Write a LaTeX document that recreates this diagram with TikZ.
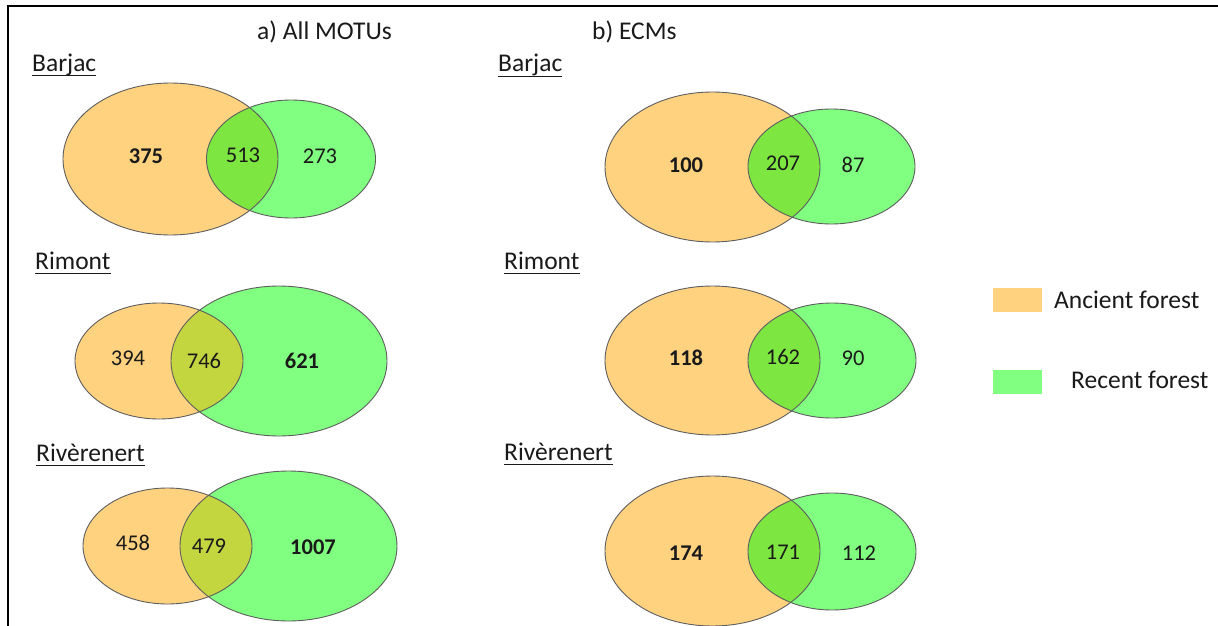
\documentclass[tikz,border=0pt]{standalone}
\usepackage{fontspec}
\setmainfont{Carlito}
\definecolor{anc}{HTML}{FFD280}
\definecolor{rec}{HTML}{80FF80}
\definecolor{ovg}{HTML}{7DE640}
\definecolor{ovo}{HTML}{C3D640}
\definecolor{vedge}{HTML}{5E5E5E}
\definecolor{ink}{HTML}{1A1A1A}
\newcommand{\vennpair}[9]{%
  \fill[anc] (#1,#2) ellipse [x radius=#3pt, y radius=#4pt];
  \fill[rec] (#5,#6) ellipse [x radius=#7pt, y radius=#8pt];
  \begin{scope}
    \clip (#1,#2) ellipse [x radius=#3pt, y radius=#4pt];
    \fill[#9] (#5,#6) ellipse [x radius=#7pt, y radius=#8pt];
  \end{scope}
  \draw[vennline] (#1,#2) ellipse [x radius=#3pt, y radius=#4pt];
  \draw[vennline] (#5,#6) ellipse [x radius=#7pt, y radius=#8pt];
}
\tikzset{
  vennline/.style={draw=vedge, line width=0.9pt},
  num/.style={font=\fontsize{22.5}{27}\selectfont, text=ink, inner sep=0pt},
  bnum/.style={num, font=\fontsize{22.5}{27}\selectfont\bfseries},
  site/.style={font=\fontsize{25.5}{30}\selectfont, text=ink, inner sep=0pt, anchor=base west},
  uline/.style={draw=ink, line width=1.3pt},
  swatch/.style={inner sep=0pt, minimum width=49pt, minimum height=24pt},
  legtext/.style={font=\fontsize{25.5}{30}\selectfont, text=ink, inner sep=0pt, anchor=west},
}
\begin{document}
\begin{tikzpicture}[x=1pt,y=-1pt]
\useasboundingbox (0,0) rectangle (1218,626);
\fill[white] (0,0) rectangle (1218,626);
% frame
\draw[line width=2pt, black] (1218,6.5) -- (7.5,6.5) -- (7.5,626);

% titles
\node[site] (ta) at (257,40) {a) All MOTUs};
\node[site] (tb) at (592,40) {b) ECMs};

% site labels
\node[site] (s1) at (32,71) {Barjac};
\node[site] (s2) at (35,269) {Rimont};
\node[site] (s3) at (36,461) {Rivèrenert};
\node[site] (s4) at (498,72) {Barjac};
\node[site] (s5) at (504,269) {Rimont};
\node[site] (s6) at (504,460) {Rivèrenert};
\foreach \s in {s1,s2,s3,s4,s5,s6}
  \draw[uline] ([yshift=-4.5pt]\s.base west) -- ([yshift=-4.5pt]\s.base east);

% a) All MOTUs
\vennpair{170.5}{159}{107.5}{76}{291}{159}{84.5}{59}{ovg}
\vennpair{159}{361}{84}{58}{279}{361}{108}{75}{ovo}
\vennpair{167.5}{546}{84.5}{58}{288.5}{546}{108.5}{75}{ovo}

% b) ECMs
\vennpair{712.5}{167}{107.5}{75}{831.5}{166.5}{83.5}{57.5}{ovg}
\vennpair{712.5}{360.5}{107.5}{74.5}{832}{360.5}{84}{57.5}{ovg}
\vennpair{712.5}{551}{107.5}{75}{832}{551.5}{84}{58.5}{ovg}

% numbers a)
\node[bnum] (n1) at (146,156) {375};
\node[num]  (n2) at (243,155) {513};
\node[num]  (n3) at (320,156) {273};
\node[num]  (n4) at (128,358) {394};
\node[num]  (n5) at (204,361) {746};
\node[bnum] (n6) at (302,361) {621};
\node[num]  (n7) at (133,543) {458};
\node[num]  (n8) at (209,546) {479};
\node[bnum] (n9) at (313,547) {1007};

% numbers b)
\node[bnum] (m1) at (686,165) {100};
\node[num]  (m2) at (783,163) {207};
\node[num]  (m3) at (853,165) {87};
\node[bnum] (m4) at (686,358) {118};
\node[num]  (m5) at (783,357) {162};
\node[num]  (m6) at (853,358) {90};
\node[bnum] (m7) at (686,553) {174};
\node[num]  (m8) at (783,552) {171};
\node[num]  (m9) at (859,553) {112};

% legend
\node[swatch, fill=anc] (la) at (1017.5,300) {};
\node[legtext] (lat) at (1054,300) {Ancient forest};
\node[swatch, fill=rec] (lr) at (1017.5,381.5) {};
\node[legtext] (lrt) at (1071,380) {Recent forest};
\end{tikzpicture}
\end{document}
